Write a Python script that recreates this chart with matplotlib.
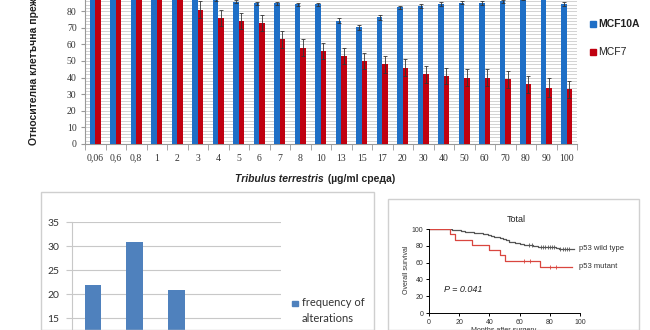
import numpy as np
import matplotlib.pyplot as plt
from matplotlib.patches import Rectangle

W, H = 650, 330

# Tribulus terrestris dose series (relative viability, %)
doses = ['0,06', '0,6', '0,8', '1', '2', '3', '4', '5', '6', '7', '8', '10',
         '13', '15', '17', '20', '30', '40', '50', '60', '70', '80', '90', '100']
mcf10a = [100, 100, 100, 100, 100, 89, 87.5, 85.7, 84.7, 84.7, 84.1, 84.1,
          74.3, 70.3, 76.3, 82.3, 83.1, 84.3, 85.1, 85, 86, 88, 89, 84.3]
mcf10a_err = [1.5, 1.5, 1.5, 1.5, 1.5, 1.5, 1.5, 1, 1, 1, 1, 1,
              1.5, 1.5, 1.5, 1, 1, 1, 1, 1, 1, 1, 1, 1]
mcf7 = [100, 100, 100, 100, 100, 81, 76, 74, 73, 63, 58, 56,
        53, 50, 48, 46, 42, 41, 40, 40, 39, 36, 34, 33]
mcf7_err = [5, 5, 5, 5, 5, 5, 5, 5, 5, 5, 5, 5,
            5, 5, 5, 5, 5, 5, 5, 5, 5, 5, 5.5, 5]

# frequency of alterations
alteration_freq = [22, 31, 21]
freq_ticks = [15, 20, 25, 30, 35]

# Kaplan-Meier steps (months, overall survival %)
wt_t = [0, 12, 15, 18, 21, 24, 27, 30, 33, 36, 39, 41, 43, 45, 47, 49, 51,
        53, 55, 57, 60, 63, 66, 69, 72, 78, 84, 86, 96]
wt_s = [100, 99.5, 99, 98.5, 98, 97, 96, 95.5, 95, 94, 93, 92, 91, 90, 89,
        88, 86.5, 85, 84, 83, 82, 81, 80.5, 79.5, 79, 78.5, 77, 76, 76]
wt_cens_t = [66, 68, 74, 75.5, 77, 78.5, 80, 81.5, 83, 87, 88.5, 90, 91.5, 93]
wt_cens_s = [80.5, 80.5, 79, 79, 79, 78.5, 78.5, 78.5, 78.5, 76, 76, 76, 76, 76]
mut_t = [0, 14, 17.5, 28.5, 40, 47, 50.5, 73.5, 95]
mut_s = [100, 94, 87, 81, 75, 69, 62.5, 55, 55]
mut_cens_t = [63, 67, 80, 84]
mut_cens_s = [62.5, 62.5, 55, 55]


def box(x0, y0, x1, y1):
    # pixel rectangle (origin top-left) -> figure fraction
    return [x0 / W, 1 - y1 / H, (x1 - x0) / W, (y1 - y0) / H]


def fy(y):
    return 1 - y / H


fig = plt.figure(figsize=(6.5, 3.3), dpi=100)
fig.patch.set_facecolor('white')

# ---- top: viability bar chart ----
ax = fig.add_axes(box(85, 0, 577, 144))
x = np.arange(len(doses))
ax.bar(x - 0.13, mcf10a, 0.26, color='#1f6fc6', yerr=mcf10a_err,
       error_kw=dict(ecolor='#333333', elinewidth=0.6, capsize=1.2, capthick=0.6), zorder=3)
ax.bar(x + 0.13, mcf7, 0.26, color='#c00010', yerr=mcf7_err,
       error_kw=dict(ecolor='#333333', elinewidth=0.6, capsize=1.2, capthick=0.6), zorder=3)
ax.set_xlim(-0.5, len(doses) - 0.5)
ax.set_ylim(0, 144 / 1.66)
ax.set_yticks(np.arange(0, 81, 10))
ax.set_yticks(np.arange(0, 87, 2), minor=True)
ax.grid(axis='y', which='both', color='#cccccc', linewidth=0.6, zorder=0)
ax.set_xticks(x)
ax.set_xticklabels(doses, family='Liberation Serif', fontsize=7, color='#333333')
ax.set_xticks(np.arange(-0.5, len(doses)), minor=True)
ax.tick_params(axis='x', which='major', length=0, pad=7)
ax.tick_params(axis='x', which='minor', length=4, color='#999999')
ax.tick_params(axis='y', which='major', length=3, color='#999999', labelsize=7,
               labelcolor='#333333', pad=3)
ax.tick_params(axis='y', which='minor', length=0)
for lab in ax.get_yticklabels():
    lab.set_family('Liberation Serif')
for s in ['top', 'right']:
    ax.spines[s].set_visible(False)
ax.spines['left'].set_color('#999999')
ax.spines['bottom'].set_color('#999999')

fig.text(34.5 / W, fy(145), 'Относителна клетъчна преживяемост (%)', rotation=90,
         ha='center', va='bottom', fontsize=7.5, fontweight='bold',
         family='Liberation Sans', color='#222222')

renderer = fig.canvas.get_renderer()
t1 = fig.text(235 / W, fy(179), 'Tribulus terrestris', ha='left', va='center',
              fontsize=7.5, fontweight='bold', style='italic',
              family='Liberation Sans', color='#222222')
bb = t1.get_window_extent(renderer)
fig.text(bb.x1 / fig.dpi / 6.5 + 1.5 / W, fy(179), ' (µg/ml среда)', ha='left',
         va='center', fontsize=7.5, fontweight='bold', family='Liberation Sans',
         color='#222222')

fig.patches.append(Rectangle((590 / W, fy(27)), 6 / W, 6 / H, color='#1f6fc6',
                             transform=fig.transFigure, figure=fig))
fig.text(598 / W, fy(24), 'MCF10A', ha='left', va='center', fontsize=7.5,
         fontweight='bold', family='Liberation Sans', color='#222222')
fig.patches.append(Rectangle((590 / W, fy(55)), 6 / W, 6 / H, color='#c00010',
                             transform=fig.transFigure, figure=fig))
fig.text(598 / W, fy(52), 'MCF7', ha='left', va='center', fontsize=7.5,
         family='Liberation Sans', color='#222222')

# ---- bottom left: alteration frequency ----
fig.patches.append(Rectangle((41 / W, 0), (374 - 41) / W, fy(195) + 0.01,
                             transform=fig.transFigure, figure=fig,
                             facecolor='none', edgecolor='#cfcfcf', linewidth=1))
ax2 = fig.add_axes(box(72, 222.3, 281, 330))
ax2.bar(np.arange(len(alteration_freq)), alteration_freq, 0.4, color='#4f81bd', zorder=3)
ax2.set_xlim(-0.5, 4.5)
ax2.set_ylim(35 - (330 - 222.3) / 4.8, 35)
ax2.set_yticks(freq_ticks)
ax2.set_xticks([])
ax2.grid(axis='y', color='#c8c8c8', linewidth=0.8, zorder=0)
ax2.tick_params(axis='y', length=4, color='#c8c8c8', labelsize=7.5,
                labelcolor='#333333', pad=5)
for lab in ax2.get_yticklabels():
    lab.set_family('Lato')
for s in ['top', 'right', 'bottom']:
    ax2.spines[s].set_visible(False)
ax2.spines['left'].set_color('#c8c8c8')
ax2.patch.set_alpha(0)
fig.patches.append(Rectangle((292 / W, fy(306)), 5.5 / W, 5.5 / H, color='#4f81bd',
                             transform=fig.transFigure, figure=fig))
fig.text(301.5 / W, fy(303), 'frequency of', ha='left', va='center', fontsize=8,
         family='Lato', color='#333333')
fig.text(301.5 / W, fy(318), 'alterations', ha='left', va='center', fontsize=8,
         family='Lato', color='#333333')

# ---- bottom right: overall survival ----
fig.patches.append(Rectangle((388 / W, 0), (639 - 388) / W, fy(202) + 0.01,
                             transform=fig.transFigure, figure=fig,
                             facecolor='none', edgecolor='#d0d0d0', linewidth=1))
ax3 = fig.add_axes(box(429, 229, 580, 313))
ax3.step(wt_t, wt_s, where='post', color='#555555', linewidth=0.9)
ax3.step(mut_t, mut_s, where='post', color='#d9463f', linewidth=0.9)
ax3.plot(wt_cens_t, wt_cens_s, linestyle='none', marker='|', markersize=2.5,
         color='#555555', markeredgewidth=0.6)
ax3.plot(mut_cens_t, mut_cens_s, linestyle='none', marker='|', markersize=2.5,
         color='#d9463f', markeredgewidth=0.6)
ax3.set_xlim(0, 100)
ax3.set_ylim(0, 100)
ax3.set_xticks(np.arange(0, 101, 20))
ax3.set_yticks(np.arange(0, 101, 20))
ax3.tick_params(length=2.5, width=0.7, labelsize=5, pad=1.5, labelcolor='#333333')
for lab in ax3.get_xticklabels() + ax3.get_yticklabels():
    lab.set_family('Liberation Sans')
for s in ['top', 'right']:
    ax3.spines[s].set_visible(False)
for s in ['left', 'bottom']:
    ax3.spines[s].set_linewidth(0.7)
ax3.patch.set_alpha(0)
fig.text(516 / W, fy(219.5), 'Total', ha='center', va='center', fontsize=6.5,
         family='Liberation Sans', color='#222222')
fig.text(579 / W, fy(249), 'p53 wild type', ha='left', va='center', fontsize=5.5,
         family='Liberation Sans', color='#333333')
fig.text(579 / W, fy(267), 'p53 mutant', ha='left', va='center', fontsize=5.5,
         family='Liberation Sans', color='#333333')
fig.text(444 / W, fy(290), 'P = 0.041', ha='left', va='center', fontsize=6.5,
         style='italic', family='Liberation Sans', color='#222222')
fig.text(407 / W, fy(270), 'Overall survival', rotation=90, ha='center', va='center',
         fontsize=5, family='Liberation Sans', color='#333333')
fig.text(504 / W, fy(327), 'Months after surgery', ha='center', va='top',
         fontsize=5, family='Liberation Sans', color='#333333')

fig.savefig('out.png', dpi=100)
